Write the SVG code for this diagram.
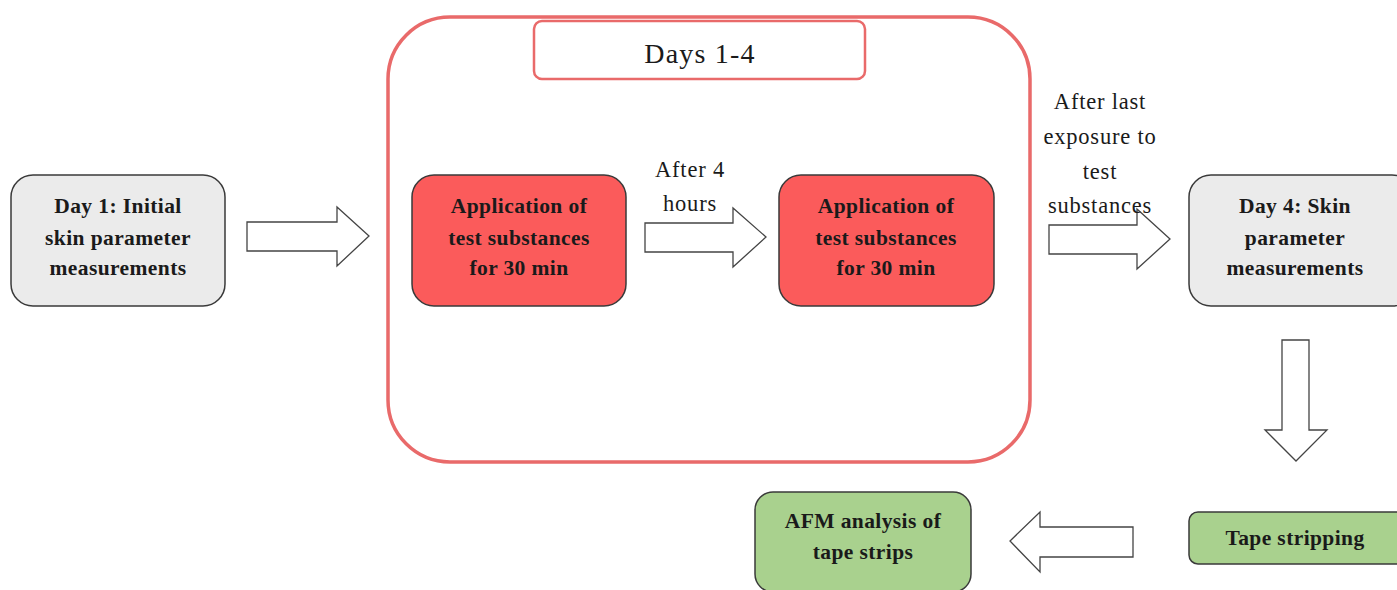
<svg xmlns="http://www.w3.org/2000/svg" width="1397" height="590" viewBox="0 0 1397 590">
<style>
.box{stroke:#3a3a3a;stroke-width:1.5}
.grey{fill:#ebebeb}
.red{fill:#fb5b5b}
.green{fill:#a9d18e}
.bt{font-family:"Liberation Serif",serif;font-weight:bold;font-size:21.5px;letter-spacing:0.4px;fill:#1a1a1a;text-anchor:middle}
.lt{font-family:"Liberation Serif",serif;font-size:22.5px;letter-spacing:0.8px;fill:#1a1a1a;text-anchor:middle}
.arrow{fill:#ffffff;stroke:#444;stroke-width:1.3;stroke-linejoin:miter}
</style>
<rect width="1397" height="590" fill="#ffffff"/>
<g id="container">
<rect x="388" y="17" width="642" height="445" rx="62" fill="none" stroke="#e96a6a" stroke-width="3.5"/>
</g>
<g id="days-label">
<rect x="534" y="21" width="331" height="58" rx="8" fill="#ffffff" stroke="#e96a6a" stroke-width="2.5"/>
<text class="lt" x="700" y="63" style="font-size:28px;letter-spacing:1.2px">Days 1-4</text>
</g>
<g id="day1">
<rect class="box grey" x="11" y="175" width="214" height="131" rx="22"/>
<text class="bt" x="118" y="213">Day 1: Initial</text>
<text class="bt" x="118" y="245">skin parameter</text>
<text class="bt" x="118" y="275">measurements</text>
</g>
<g id="app1">
<rect class="box red" x="412" y="175" width="214" height="131" rx="22"/>
<text class="bt" x="519" y="213">Application of</text>
<text class="bt" x="519" y="245">test substances</text>
<text class="bt" x="519" y="275">for 30 min</text>
</g>
<g id="app2">
<rect class="box red" x="779" y="175" width="215" height="131" rx="22"/>
<text class="bt" x="886" y="213">Application of</text>
<text class="bt" x="886" y="245">test substances</text>
<text class="bt" x="886" y="275">for 30 min</text>
</g>
<g id="day4">
<rect class="box grey" x="1189" y="175" width="225" height="131" rx="22"/>
<text class="bt" x="1295" y="213">Day 4: Skin</text>
<text class="bt" x="1295" y="245">parameter</text>
<text class="bt" x="1295" y="275">measurements</text>
</g>
<g id="tape">
<rect class="box green" x="1189" y="512" width="220" height="52" rx="9"/>
<text class="bt" x="1295" y="545">Tape stripping</text>
</g>
<g id="afm">
<rect class="box green" x="755" y="492" width="216" height="100" rx="18"/>
<text class="bt" x="863" y="528">AFM analysis of</text>
<text class="bt" x="863" y="559">tape strips</text>
</g>
<g id="connectors">
<polygon class="arrow" points="247,222 337,222 337,207 369,236 337,266 337,251 247,251"/>
<polygon class="arrow" points="645,223 733,223 733,208 766,237 733,267 733,252 645,252"/>
<polygon class="arrow" points="1049,225 1137,225 1137,209 1170,239 1137,269 1137,254 1049,254"/>
<polygon class="arrow" points="1282,340 1309,340 1309,430 1327,430 1296,461 1265,430 1282,430"/>
<polygon class="arrow" points="1133,527 1040,527 1040,512 1010,541 1040,572 1040,557 1133,557"/>
<text class="lt" x="690" y="177">After 4</text>
<text class="lt" x="690" y="211">hours</text>
<text class="lt" x="1100" y="109">After last</text>
<text class="lt" x="1100" y="144">exposure to</text>
<text class="lt" x="1100" y="179">test</text>
<text class="lt" x="1100" y="213">substances</text>
</g>
</svg>
